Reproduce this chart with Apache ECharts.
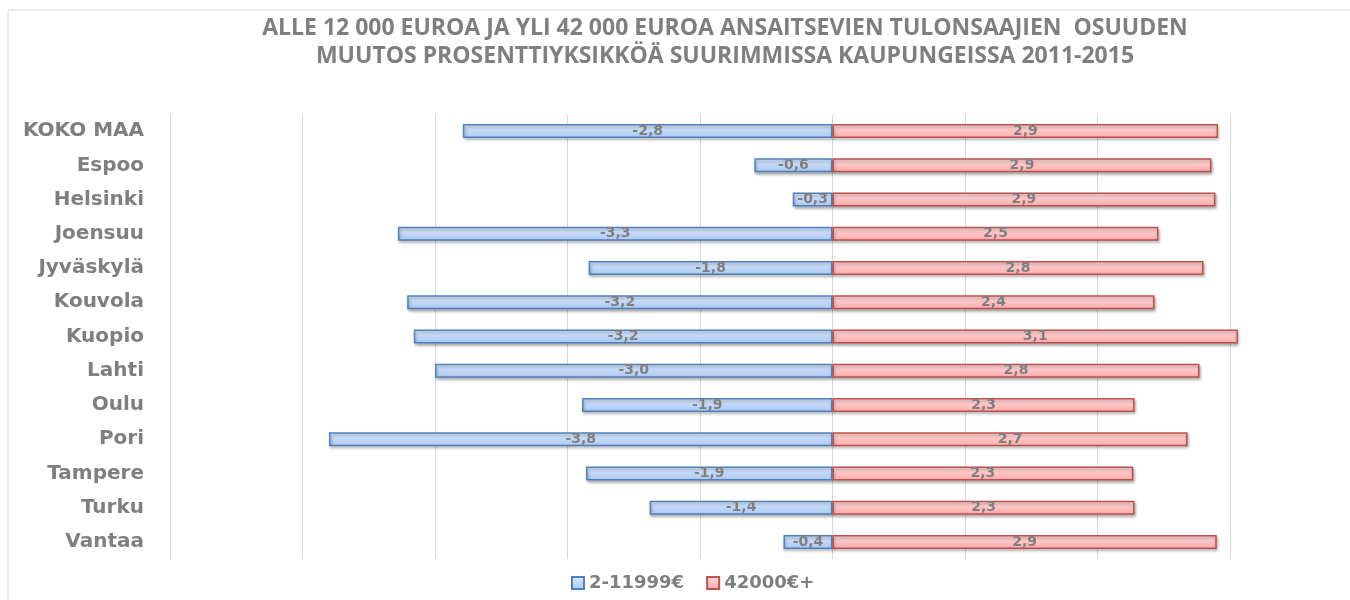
<!DOCTYPE html>
<html>
<head>
<meta charset="utf-8">
<script src="https://cdn.jsdelivr.net/npm/echarts@6/dist/echarts.min.js"></script>
<style>
  html, body { margin: 0; padding: 0; background: #fff; }
  #chart { width: 1350px; height: 600px; }
</style>
</head>
<body>
<div id="chart"></div>
<script>
// kaupungit ylhäältä alas
var cities = ['KOKO MAA', 'Espoo', 'Helsinki', 'Joensuu', 'Jyväskylä', 'Kouvola', 'Kuopio',
  'Lahti', 'Oulu', 'Pori', 'Tampere', 'Turku', 'Vantaa'];
// alle 12 000 euroa (2-11999€)
var lowIncome = [-2.79, -0.59, -0.3, -3.28, -1.84, -3.21, -3.16, -3.0, -1.89, -3.8, -1.86, -1.38, -0.37];
// yli 42 000 euroa (42000€+)
var highIncome = [2.91, 2.86, 2.89, 2.46, 2.8, 2.43, 3.06, 2.77, 2.28, 2.68, 2.27, 2.28, 2.9];

var gray = '#7f7f7f';

function fmt(p) {
  return p.value.toFixed(1).replace('.', ',');
}

var chart = echarts.init(document.getElementById('chart'));
chart.setOption({
  animation: false,
  title: {
    text: 'ALLE 12 000 EUROA JA YLI 42 000 EUROA ANSAITSEVIEN TULONSAAJIEN  OSUUDEN\nMUUTOS PROSENTTIYKSIKKÖÄ SUURIMMISSA KAUPUNGEISSA 2011-2015',
    left: 720,
    textAlign: 'center',
    top: 9,
    textStyle: {
      color: gray,
      fontFamily: 'Open Sans',
      fontWeight: 'bold',
      fontSize: 23,
      lineHeight: 28
    }
  },
  graphic: [{
    type: 'rect',
    shape: { x: 8, y: 10, width: 1400, height: 700 },
    style: { fill: 'none', stroke: '#d9d9d9', lineWidth: 1 },
    silent: true
  }],
  legend: {
    bottom: 3,
    left: 566,
    icon: 'rect',
    itemWidth: 12,
    itemHeight: 12,
    itemGap: 22,
    textStyle: { color: gray, fontFamily: 'DejaVu Sans', fontWeight: 'bold', fontSize: 18 },
    data: ['2-11999€', '42000€+']
  },
  grid: { left: 170, right: 120, top: 114, bottom: 41, containLabel: false },
  xAxis: {
    type: 'value',
    min: -5,
    max: 3,
    interval: 1,
    axisLabel: { show: false },
    axisLine: { show: false },
    axisTick: { show: false },
    splitLine: { lineStyle: { color: '#d9d9d9', width: 1 } }
  },
  yAxis: {
    type: 'category',
    inverse: true,
    data: cities,
    axisLine: { show: false },
    axisTick: { show: false },
    axisLabel: {
      color: gray,
      fontFamily: 'DejaVu Sans',
      fontWeight: 'bold',
      fontSize: 20,
      margin: 26
    }
  },
  series: [
    {
      name: '2-11999€',
      type: 'bar',
      data: lowIncome,
      barWidth: 14,
      barGap: '-100%',
      clip: false,
      itemStyle: {
        color: new echarts.graphic.LinearGradient(0, 0, 0, 1, [
          { offset: 0, color: '#dce9fd' },
          { offset: 1, color: '#a9c6f3' }
        ]),
        borderColor: '#4f81bd',
        borderWidth: 1.5,
        shadowColor: 'rgba(0,0,0,0.3)',
        shadowBlur: 3,
        shadowOffsetX: 1,
        shadowOffsetY: 2
      },
      label: {
        show: true,
        position: 'inside',
        color: gray,
        fontFamily: 'DejaVu Sans',
        fontWeight: 'bold',
        fontSize: 14,
        formatter: fmt
      }
    },
    {
      name: '42000€+',
      type: 'bar',
      data: highIncome,
      barWidth: 14,
      barGap: '-100%',
      clip: false,
      itemStyle: {
        color: new echarts.graphic.LinearGradient(0, 0, 0, 1, [
          { offset: 0, color: '#ffdcdc' },
          { offset: 1, color: '#ffa9a9' }
        ]),
        borderColor: '#c0504d',
        borderWidth: 1.5,
        shadowColor: 'rgba(0,0,0,0.3)',
        shadowBlur: 3,
        shadowOffsetX: 1,
        shadowOffsetY: 2
      },
      label: {
        show: true,
        position: 'inside',
        color: gray,
        fontFamily: 'DejaVu Sans',
        fontWeight: 'bold',
        fontSize: 14,
        formatter: fmt
      }
    }
  ]
});
</script>
</body>
</html>
